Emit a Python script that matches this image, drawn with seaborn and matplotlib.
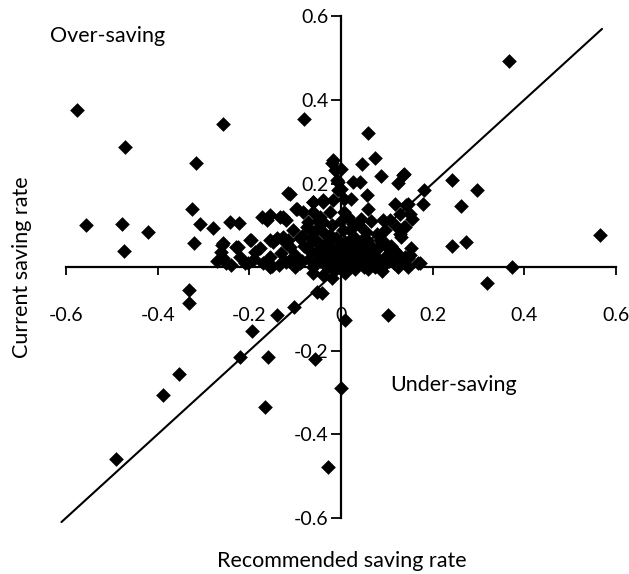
import matplotlib
matplotlib.use("Agg")
import matplotlib.pyplot as plt
import numpy as np
import pandas as pd
import seaborn as sns

# ===========================
# DATA
# ===========================
# scattered points away from the centre
outer_rec = [-0.576, -0.471, -0.317, -0.258, -0.080, -0.324, -0.557, -0.477, -0.422,
             -0.474, -0.320, -0.308, -0.279, -0.242, -0.222, -0.111, 0.367, 0.242,
             0.298, 0.263, 0.181, 0.180, 0.136, 0.566, 0.242, 0.274, 0.373, 0.318,
             -0.332, -0.332, -0.140, -0.103, -0.195, -0.221, -0.159, -0.057, -0.353,
             -0.389, -0.166, -0.492, -0.060, -0.053, -0.042, 0.009, 0.103, 0.001,
             -0.028]
outer_cur = [0.376, 0.288, 0.250, 0.342, 0.354, 0.140, 0.100, 0.102, 0.083,
             0.038, 0.057, 0.103, 0.094, 0.108, 0.105, 0.176, 0.494, 0.208,
             0.184, 0.146, 0.184, 0.150, 0.220, 0.077, 0.050, 0.061, 0.001, -0.039,
             -0.055, -0.085, -0.115, -0.096, -0.153, -0.216, -0.216, -0.220, -0.256,
             -0.306, -0.334, -0.460, -0.015, -0.059, -0.061, -0.127, -0.115, -0.290,
             -0.479]

# the cloud left of the vertical axis
left_rec = [-0.173, -0.155, -0.162, -0.133, -0.115, -0.199, -0.257, -0.261, -0.257,
            -0.228, -0.221, -0.188, -0.177, -0.155, -0.140, -0.130, -0.155, -0.155,
            -0.119, -0.202, -0.250, -0.119, -0.126, -0.095, -0.061, -0.197, -0.224,
            -0.260, -0.151, -0.148, -0.017, -0.013, -0.009, -0.006, -0.017, -0.039,
            -0.024, -0.097, -0.082, -0.060, -0.119, -0.071, -0.039, -0.053, -0.104,
            -0.126, -0.090, -0.060, -0.020, -0.111, -0.075, -0.039, -0.020, 0.000,
            -0.006, -0.060, -0.039, -0.046, -0.024, -0.046, -0.27, -0.24, -0.21,
            -0.19, -0.17, -0.135]
left_cur = [0.119, 0.124, 0.112, 0.119, 0.178, 0.066, 0.058, 0.037, 0.021,
            0.049, 0.025, 0.037, 0.045, 0.065, 0.069, 0.033, 0.025, 0.000,
            0.057, 0.009, 0.009, 0.013, 0.120, 0.139, 0.156, 0.066, 0.049,
            0.053, 0.003, 0.060, 0.256, 0.232, 0.208, 0.184, 0.160, 0.160,
            0.132, 0.140, 0.132, 0.132, 0.112, 0.108, 0.108, 0.092, 0.088,
            0.072, 0.069, 0.065, 0.072, 0.049, 0.045, 0.049, 0.248, 0.234,
            0.204, 0.156, 0.156, 0.120, 0.069, 0.053, 0.015, 0.005, 0.010,
            0.020, 0.010, 0.005]

# the cloud right of the vertical axis
right_rec = [0.060, 0.074, 0.045, 0.087, 0.138, 0.125, 0.027, 0.041, 0.000, 0.056,
             0.023, 0.007, 0.118, 0.147, 0.060, 0.044, 0.007, 0.107, 0.129, 0.122,
             0.140, 0.129, 0.092, 0.020, 0.027, 0.056, 0.078, 0.147, 0.169, 0.107,
             0.078, 0.143, 0.151, 0.156, 0.138, 0.132, 0.140, 0.172, 0.146, 0.154,
             0.096, 0.085, 0.151, 0.122, 0.107, 0.023, 0.027]
right_cur = [0.320, 0.262, 0.246, 0.218, 0.222, 0.202, 0.204, 0.204, 0.188, 0.172,
             0.164, 0.164, 0.152, 0.152, 0.138, 0.116, 0.132, 0.112, 0.128, 0.096,
             0.096, 0.080, 0.112, 0.088, 0.072, 0.065, 0.080, 0.021, 0.009, 0.025,
             0.021, 0.148, 0.128, 0.114, 0.096, 0.072, 0.025, 0.009, 0.000, 0.045,
             0.088, 0.065, 0.029, 0.025, 0.041, 0.057, 0.104]

# dense blob around the origin
core_rec = [-0.10, -0.09, -0.08, -0.07, -0.065, -0.06, -0.055, -0.05, -0.045, -0.04,
            -0.035, -0.03, -0.03, -0.025, -0.02, -0.02, -0.015, -0.01, -0.01, -0.005,
            0.0, 0.0, 0.005, 0.005, 0.01, 0.01, 0.015, 0.02, 0.02, 0.025,
            0.03, 0.03, 0.035, 0.04, 0.045, 0.05, 0.05, 0.055, 0.06, 0.065,
            0.07, 0.075, 0.08, 0.085, 0.09, 0.095, 0.10, 0.11, 0.115, 0.125,
            -0.11, -0.10, -0.085, -0.075, -0.05, -0.115, 0.0, 0.015, 0.04, 0.065,
            -0.015, 0.01, 0.03, -0.04, -0.02, 0.06, 0.09,
            -0.07, -0.045, -0.025, 0.01, 0.035, 0.055, 0.08, 0.105, 0.12, 0.135,
            -0.085, -0.06, 0.045, 0.07, 0.095, 0.115]
core_cur = [0.03, 0.01, 0.05, 0.02, 0.07, 0.0, 0.035, 0.06, 0.015, 0.085,
            0.04, 0.0, 0.06, 0.025, 0.10, 0.045, 0.01, 0.07, 0.03, 0.0,
            0.05, 0.015, 0.09, 0.035, 0.005, 0.06, 0.025, 0.045, 0.0, 0.015,
            0.07, 0.03, 0.005, 0.05, 0.02, 0.0, 0.035, 0.085, 0.015, 0.05,
            0.03, 0.0, 0.045, 0.015, 0.06, 0.005, 0.03, 0.05, 0.01, 0.0,
            0.02, 0.0, 0.075, 0.095, 0.11, 0.065, 0.11, 0.12, 0.10, 0.11,
            -0.01, -0.015, -0.005, -0.02, -0.025, -0.005, -0.01,
            0.04, 0.03, 0.075, 0.03, 0.045, 0.025, 0.02, 0.015, 0.035, 0.02,
            0.015, 0.085, 0.065, 0.005, 0.06, 0.04]

# 45-degree reference line (recommended = current)
diag_ends = [-0.61, 0.57]

x_ticks = [-0.6, -0.4, -0.2, 0, 0.2, 0.4, 0.6]
y_ticks = [-0.6, -0.4, -0.2, 0.2, 0.4, 0.6]

df = pd.DataFrame({
    "recommended": outer_rec + left_rec + right_rec + core_rec,
    "current": outer_cur + left_cur + right_cur + core_cur,
})

# ===========================
# PLOT
# ===========================
sns.set_theme(style="white")
plt.rcParams["font.family"] = ["Lato", "DejaVu Sans"]
plt.rcParams["axes.unicode_minus"] = False
plt.rcParams["text.color"] = "black"

fig = plt.figure(figsize=(6.29, 5.74), dpi=100)
ax = fig.add_axes([0.0795, 0.0854, 0.914, 0.897])

ax.plot(diag_ends, diag_ends, color="black", lw=1.5, zorder=1)
sns.scatterplot(data=df, x="recommended", y="current", marker="D", color="black",
                s=56, linewidth=0, ax=ax, zorder=2)

ax.set_xlim(-0.635, 0.62)
ax.set_ylim(-0.617, 0.615)

# axes through the origin
for side in ["top", "right"]:
    ax.spines[side].set_visible(False)
ax.spines["left"].set_position(("data", 0))
ax.spines["bottom"].set_position(("data", 0))
ax.spines["left"].set_bounds(-0.6, 0.6)
ax.spines["bottom"].set_bounds(-0.6, 0.6)
for side in ["left", "bottom"]:
    ax.spines[side].set_color("black")
    ax.spines[side].set_linewidth(1.6)

ax.set_xticks(x_ticks)
ax.set_xticklabels([f"{t:g}" for t in x_ticks])
ax.set_yticks(y_ticks)
ax.set_yticklabels([f"{t:g}" for t in y_ticks])
ax.tick_params(axis="x", direction="out", length=6, width=1.3, pad=23,
               labelsize=14, colors="black")
ax.tick_params(axis="y", direction="out", length=7, width=1.3, pad=2,
               labelsize=14, colors="black")
ax.tick_params(left=True, bottom=True)

ax.set_xlabel("Recommended saving rate", fontsize=15.5, color="black")
ax.set_ylabel("Current saving rate", fontsize=15.5, color="black")
ax.xaxis.set_label_coords(0.508, -0.05)
ax.yaxis.set_label_coords(-0.032, 0.501)

ax.text(-0.51, 0.553, "Over-saving", fontsize=15.5, ha="center", va="center")
ax.text(0.247, -0.282, "Under-saving", fontsize=15.5, ha="center", va="center")

fig.savefig("out.png", dpi=100)
